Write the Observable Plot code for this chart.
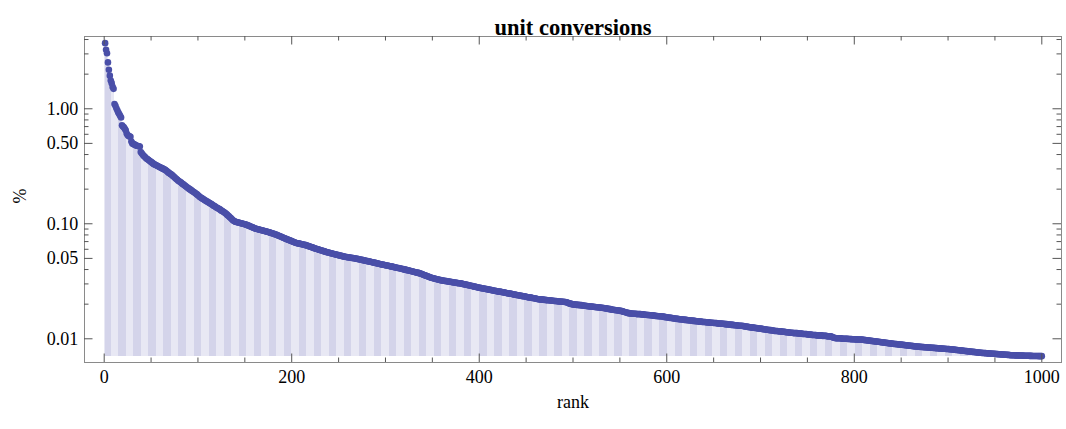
<!DOCTYPE html>
<html>
<head>
<meta charset="utf-8">
<script src="https://cdn.jsdelivr.net/npm/d3@7"></script>
<script src="https://cdn.jsdelivr.net/npm/@observablehq/plot@0.6"></script>
<style>
  html, body { margin: 0; padding: 0; background: #fff; }
</style>
</head>
<body>
<div id="chart"></div>
<script>
// share (%) of each unit-conversion query, by rank 1..1000
const share = [
  3.72, 3.26, 3.04, 2.53, 2.18, 1.94, 1.76, 1.67, 1.55, 1.49,
  1.10, 1.06, 1.01, 0.97, 0.93, 0.90, 0.87, 0.84, 0.72, 0.70,
  0.69, 0.67, 0.65, 0.61, 0.59, 0.58, 0.575, 0.57, 0.52, 0.50,
  0.495, 0.49, 0.485, 0.48, 0.477, 0.475, 0.472, 0.47, 0.42, 0.41,
  0.40, 0.39, 0.385, 0.377, 0.37, 0.365, 0.36, 0.355, 0.35, 0.345,
  0.34, 0.335, 0.33, 0.327, 0.324, 0.321, 0.318, 0.315, 0.312, 0.309,
  0.306, 0.303, 0.300, 0.297, 0.295, 0.29, 0.286, 0.281, 0.277, 0.273,
  0.27, 0.267, 0.262, 0.258, 0.254, 0.249, 0.245, 0.241, 0.237, 0.234,
  0.231, 0.228, 0.224, 0.221, 0.218, 0.215, 0.212, 0.209, 0.206, 0.203,
  0.200, 0.198, 0.195, 0.193, 0.19, 0.188, 0.185, 0.182, 0.180, 0.177,
  0.174, 0.171, 0.169, 0.167, 0.165, 0.163, 0.161, 0.159, 0.157, 0.156,
  0.154, 0.152, 0.150, 0.149, 0.147, 0.145, 0.143, 0.142, 0.140, 0.138,
  0.137, 0.135, 0.134, 0.132, 0.130, 0.129, 0.127, 0.126, 0.124, 0.122,
  0.120, 0.118, 0.116, 0.114, 0.112, 0.110, 0.108, 0.106, 0.105, 0.104,
  0.1035, 0.103, 0.1025, 0.102, 0.1015, 0.101, 0.1005, 0.100, 0.0995, 0.099,
  0.0986, 0.0978, 0.097, 0.0963, 0.0955, 0.0947, 0.094, 0.0932, 0.0925, 0.0917,
  0.091, 0.0906, 0.0901, 0.0897, 0.0893, 0.0888, 0.0884, 0.0879, 0.0875, 0.0871,
  0.0866, 0.0862, 0.0857, 0.0852, 0.0847, 0.0842, 0.0837, 0.0832, 0.0827, 0.0822,
  0.0817, 0.0812, 0.0807, 0.0801, 0.0795, 0.0788, 0.0782, 0.0776, 0.077, 0.0764,
  0.0757, 0.0751, 0.0745, 0.0739, 0.0734, 0.0728, 0.0723, 0.0717, 0.0712, 0.0706,
  0.0701, 0.0695, 0.069, 0.0684, 0.0681, 0.0678, 0.0675, 0.0672, 0.0669, 0.0667,
  0.0664, 0.0661, 0.0658, 0.0655, 0.0652, 0.0648, 0.0644, 0.0639, 0.0635, 0.0631,
  0.0627, 0.0623, 0.0618, 0.0614, 0.061, 0.0606, 0.0603, 0.0599, 0.0596, 0.0592,
  0.0589, 0.0585, 0.0582, 0.0578, 0.0575, 0.0571, 0.0568, 0.0565, 0.0562, 0.056,
  0.0557, 0.0554, 0.0552, 0.0549, 0.0546, 0.0544, 0.0541, 0.0538, 0.0536, 0.0533,
  0.0531, 0.0528, 0.0526, 0.0523, 0.0521, 0.0518, 0.0516, 0.0514, 0.0513, 0.0511,
  0.051, 0.0508, 0.0507, 0.0505, 0.0504, 0.0502, 0.0501, 0.0499, 0.0497, 0.0495,
  0.0493, 0.0491, 0.0489, 0.0487, 0.0485, 0.0483, 0.0481, 0.0479, 0.0477, 0.0475,
  0.0473, 0.0471, 0.0469, 0.0467, 0.0465, 0.0463, 0.0461, 0.0459, 0.0457, 0.0455,
  0.0453, 0.0451, 0.0449, 0.0447, 0.0445, 0.0443, 0.0441, 0.044, 0.0438, 0.0436,
  0.0434, 0.0433, 0.0431, 0.0429, 0.0427, 0.0426, 0.0424, 0.0422, 0.042, 0.0419,
  0.0417, 0.0415, 0.0413, 0.0412, 0.041, 0.0408, 0.0406, 0.0404, 0.0403, 0.0401,
  0.0399, 0.0397, 0.0395, 0.0394, 0.0392, 0.039, 0.0388, 0.0386, 0.0385, 0.0383,
  0.0381, 0.0379, 0.0377, 0.0376, 0.0374, 0.0372, 0.037, 0.0367, 0.0365, 0.0362,
  0.0359, 0.0357, 0.0354, 0.0351, 0.0349, 0.0346, 0.0344, 0.0341, 0.0339, 0.0338,
  0.0336, 0.0334, 0.0333, 0.0331, 0.0329, 0.0328, 0.0326, 0.0325, 0.0323, 0.0322,
  0.0321, 0.032, 0.0319, 0.0318, 0.0317, 0.0316, 0.0315, 0.0314, 0.0313, 0.0312,
  0.0311, 0.031, 0.0309, 0.0308, 0.0307, 0.0306, 0.0305, 0.0304, 0.0304, 0.0303,
  0.0302, 0.03, 0.0299, 0.0298, 0.0297, 0.0295, 0.0294, 0.0293, 0.0292, 0.029,
  0.0289, 0.0288, 0.0287, 0.0285, 0.0284, 0.0283, 0.0282, 0.028, 0.0279, 0.0278,
  0.0277, 0.0276, 0.0275, 0.0274, 0.0273, 0.0272, 0.0271, 0.027, 0.0269, 0.0268,
  0.0267, 0.0266, 0.0265, 0.0264, 0.0263, 0.0262, 0.0261, 0.026, 0.0259, 0.0258,
  0.0257, 0.0257, 0.0256, 0.0255, 0.0254, 0.0253, 0.0252, 0.0251, 0.025, 0.0249,
  0.0248, 0.0247, 0.0247, 0.0246, 0.0245, 0.0244, 0.0243, 0.0242, 0.0241, 0.024,
  0.0239, 0.0239, 0.0238, 0.0237, 0.0236, 0.0235, 0.0234, 0.0234, 0.0233, 0.0232,
  0.0231, 0.023, 0.0229, 0.0229, 0.0228, 0.0227, 0.0226, 0.0225, 0.0225, 0.0224,
  0.0223, 0.0222, 0.0221, 0.0221, 0.022, 0.022, 0.0219, 0.0219, 0.0218, 0.0218,
  0.0217, 0.0217, 0.0216, 0.0216, 0.0216, 0.0215, 0.0215, 0.0214, 0.0214, 0.0213,
  0.0213, 0.0213, 0.0212, 0.0212, 0.0211, 0.0211, 0.0211, 0.021, 0.021, 0.021,
  0.0209, 0.0209, 0.0208, 0.0207, 0.0205, 0.0203, 0.0202, 0.0201, 0.02, 0.0199,
  0.0199, 0.0198, 0.0198, 0.0197, 0.0197, 0.0197, 0.0196, 0.0196, 0.0196, 0.0195,
  0.0195, 0.0194, 0.0194, 0.0193, 0.0193, 0.0192, 0.0192, 0.0191, 0.0191, 0.0191,
  0.019, 0.019, 0.0189, 0.0189, 0.0188, 0.0188, 0.0188, 0.0187, 0.0187, 0.0186,
  0.0186, 0.0185, 0.0185, 0.0184, 0.0184, 0.0183, 0.0182, 0.0182, 0.0181, 0.0181,
  0.018, 0.0179, 0.0179, 0.0178, 0.0178, 0.0177, 0.0177, 0.0176, 0.0176, 0.0175,
  0.0175, 0.0174, 0.0173, 0.0172, 0.0171, 0.017, 0.0169, 0.0168, 0.0167, 0.0167,
  0.0166, 0.0166, 0.0166, 0.0165, 0.0165, 0.0165, 0.0165, 0.0164, 0.0164, 0.0164,
  0.0164, 0.0164, 0.0163, 0.0163, 0.0163, 0.0162, 0.0162, 0.0162, 0.0161, 0.0161,
  0.0161, 0.016, 0.016, 0.016, 0.0159, 0.0159, 0.0159, 0.0158, 0.0158, 0.0158,
  0.0157, 0.0157, 0.0157, 0.0157, 0.0156, 0.0156, 0.0155, 0.0155, 0.0154, 0.0154,
  0.0153, 0.0153, 0.0152, 0.0152, 0.0152, 0.0151, 0.0151, 0.015, 0.015, 0.0149,
  0.0149, 0.0149, 0.0148, 0.0148, 0.0148, 0.0147, 0.0147, 0.0147, 0.0146, 0.0146,
  0.0146, 0.0145, 0.0145, 0.0145, 0.0144, 0.0144, 0.0144, 0.0143, 0.0143, 0.0143,
  0.0142, 0.0142, 0.0142, 0.0141, 0.0141, 0.0141, 0.0141, 0.014, 0.014, 0.014,
  0.014, 0.0139, 0.0139, 0.0139, 0.0139, 0.0138, 0.0138, 0.0138, 0.0138, 0.0137,
  0.0137, 0.0137, 0.0137, 0.0136, 0.0136, 0.0136, 0.0136, 0.0136, 0.0135, 0.0135,
  0.0135, 0.0134, 0.0134, 0.0134, 0.0133, 0.0133, 0.0133, 0.0133, 0.0132, 0.0132,
  0.0132, 0.0131, 0.0131, 0.0131, 0.0131, 0.013, 0.013, 0.013, 0.013, 0.013,
  0.0129, 0.0129, 0.0128, 0.0128, 0.0128, 0.0127, 0.0127, 0.0126, 0.0126, 0.0126,
  0.0125, 0.0125, 0.0125, 0.0124, 0.0124, 0.0124, 0.0123, 0.0123, 0.0123, 0.0123,
  0.0122, 0.0122, 0.0121, 0.0121, 0.0121, 0.012, 0.012, 0.012, 0.0119, 0.0119,
  0.0119, 0.0118, 0.0118, 0.0118, 0.0117, 0.0117, 0.0117, 0.0117, 0.0116, 0.0116,
  0.0116, 0.0116, 0.0115, 0.0115, 0.0115, 0.0115, 0.0114, 0.0114, 0.0114, 0.0114,
  0.0113, 0.0113, 0.0113, 0.0113, 0.0112, 0.0112, 0.0112, 0.0112, 0.0112, 0.0111,
  0.0111, 0.0111, 0.0111, 0.0111, 0.011, 0.011, 0.011, 0.011, 0.011, 0.0109,
  0.0109, 0.0109, 0.0109, 0.0109, 0.0108, 0.0108, 0.0108, 0.0108, 0.0108, 0.0107,
  0.0107, 0.0107, 0.0107, 0.0107, 0.0107, 0.0106, 0.0106, 0.0106, 0.0106, 0.0106,
  0.0105, 0.0105, 0.0105, 0.0105, 0.0105, 0.0104, 0.0103, 0.0102, 0.0102, 0.0101,
  0.0101, 0.0101, 0.0101, 0.0101, 0.0101, 0.0101, 0.01, 0.01, 0.01, 0.01,
  0.01, 0.01, 0.00998, 0.00996, 0.00995, 0.00994, 0.00993, 0.00992, 0.00991, 0.0099,
  0.00989, 0.00988, 0.00987, 0.00986, 0.00986, 0.00985, 0.00985, 0.00983, 0.0098, 0.00978,
  0.00976, 0.00973, 0.00971, 0.00969, 0.00966, 0.00964, 0.00962, 0.00959, 0.00957, 0.00955,
  0.00952, 0.0095, 0.00948, 0.00945, 0.00943, 0.00941, 0.00938, 0.00936, 0.00934, 0.00931,
  0.00929, 0.00927, 0.00924, 0.00922, 0.0092, 0.00917, 0.00915, 0.00912, 0.0091, 0.00908,
  0.00906, 0.00904, 0.00902, 0.009, 0.00898, 0.00896, 0.00895, 0.00893, 0.00891, 0.00889,
  0.00887, 0.00885, 0.00883, 0.00881, 0.00879, 0.00877, 0.00875, 0.00873, 0.00871, 0.00869,
  0.00867, 0.00865, 0.00863, 0.00861, 0.00859, 0.00858, 0.00856, 0.00854, 0.00852, 0.00851,
  0.0085, 0.00849, 0.00848, 0.00846, 0.00845, 0.00844, 0.00843, 0.00841, 0.0084, 0.00839,
  0.00838, 0.00836, 0.00835, 0.00834, 0.00833, 0.00831, 0.0083, 0.00829, 0.00828, 0.00826,
  0.00825, 0.00824, 0.00823, 0.00821, 0.0082, 0.00819, 0.00818, 0.00816, 0.00815, 0.00814,
  0.00813, 0.00811, 0.0081, 0.00808, 0.00806, 0.00805, 0.00803, 0.00801, 0.00799, 0.00798,
  0.00796, 0.00794, 0.00793, 0.00791, 0.00789, 0.00787, 0.00786, 0.00784, 0.00782, 0.00781,
  0.00779, 0.00777, 0.00775, 0.00774, 0.00772, 0.0077, 0.00769, 0.00767, 0.00765, 0.00763,
  0.00762, 0.0076, 0.00758, 0.00757, 0.00755, 0.00754, 0.00753, 0.00752, 0.00751, 0.0075,
  0.00748, 0.00747, 0.00746, 0.00745, 0.00744, 0.00743, 0.00742, 0.00741, 0.0074, 0.00739,
  0.00738, 0.00737, 0.00735, 0.00734, 0.00733, 0.00732, 0.00731, 0.0073, 0.00729, 0.00728,
  0.00727, 0.00726, 0.00725, 0.00724, 0.00722, 0.00721, 0.0072, 0.0072, 0.00719, 0.00719,
  0.00718, 0.00718, 0.00717, 0.00717, 0.00716, 0.00716, 0.00715, 0.00715, 0.00714, 0.00714,
  0.00713, 0.00713, 0.00712, 0.00712, 0.00711, 0.00711, 0.0071, 0.0071, 0.0071, 0.00709,
  0.00709, 0.00709, 0.00708, 0.00708, 0.00708, 0.00707, 0.00707, 0.00707, 0.00706, 0.00706
];

const title = "unit conversions";
const xLabel = "rank";
const yLabel = "%";
const xMajorTicks = [0, 200, 400, 600, 800, 1000];
const xMinorTicks = [50, 100, 150, 250, 300, 350, 450, 500, 550, 650, 700, 750, 850, 900, 950];
const yMajorTicks = [1, 0.5, 0.1, 0.05, 0.01];
const yMinorTicks = [4, 3, 2, 0.9, 0.8, 0.7, 0.6, 0.4, 0.3, 0.2, 0.09, 0.08, 0.07, 0.06, 0.04, 0.03, 0.02];

const data = share.map((v, i) => ({rank: i + 1, share: v}));
const base = d3.min(share);

const W = 1066, H = 429;
const mL = 84, mR = 5, mT = 36, mB = 67;
const fw = W - mL - mR, fh = H - mT - mB;
const majorLen = 8.5, minorLen = 4.5;
const tickColor = "#555";
const dotColor = "#4a4fa8";
const labelSize = 18;

const chart = Plot.plot({
  width: W,
  height: H,
  marginLeft: mL,
  marginRight: mR,
  marginTop: mT,
  marginBottom: mB,
  style: {
    fontFamily: "'Liberation Serif', 'Times New Roman', serif",
    fontSize: labelSize + "px",
    color: "#000",
    background: "#fff"
  },
  x: {domain: [-21, 1021]},
  y: {type: "log", domain: [0.00622, 4.25]},
  marks: [
    Plot.ruleX(data, {x: "rank", y1: base, y2: "share", stroke: dotColor, strokeOpacity: 0.13, strokeWidth: 1.4, shapeRendering: "crispEdges"}),
    Plot.dot(data, {x: "rank", y: "share", r: 3.3, fill: dotColor, stroke: "none"}),
    Plot.frame({stroke: "#8a8a8a", strokeWidth: 1}),
    // bottom and top ticks (pointing inward)
    Plot.ruleX(xMajorTicks, {x: d => d, insetTop: fh - majorLen, stroke: tickColor}),
    Plot.ruleX(xMinorTicks, {x: d => d, insetTop: fh - minorLen, stroke: tickColor}),
    Plot.ruleX(xMajorTicks, {x: d => d, insetBottom: fh - majorLen, stroke: tickColor}),
    Plot.ruleX(xMinorTicks, {x: d => d, insetBottom: fh - minorLen, stroke: tickColor}),
    // left and right ticks
    Plot.ruleY(yMajorTicks, {y: d => d, insetRight: fw - majorLen, stroke: tickColor}),
    Plot.ruleY(yMinorTicks, {y: d => d, insetRight: fw - minorLen, stroke: tickColor}),
    Plot.ruleY(yMajorTicks, {y: d => d, insetLeft: fw - majorLen, stroke: tickColor}),
    Plot.ruleY(yMinorTicks, {y: d => d, insetLeft: fw - minorLen, stroke: tickColor}),
    Plot.axisX({ticks: xMajorTicks, tickSize: 0, tickPadding: 7.5, tickFormat: d3.format("d"), label: null, fontSize: labelSize}),
    Plot.axisY({ticks: [], label: null}),
    Plot.text(yMajorTicks, {y: d => d, frameAnchor: "left", dx: -6.3, textAnchor: "end", text: d => d3.format(".2f")(d), fontSize: labelSize}),
    Plot.text([xLabel], {frameAnchor: "bottom", dy: 45.3, text: d => d, fontSize: labelSize}),
    Plot.text([yLabel], {frameAnchor: "left", dx: -64.5, dy: 4, rotate: -90, text: d => d, fontSize: labelSize}),
    Plot.text([title], {frameAnchor: "top", dy: -17.2, text: d => d, fontSize: 22.5, fontWeight: "bold"})
  ]
});

document.getElementById("chart").appendChild(chart);
</script>
</body>
</html>
